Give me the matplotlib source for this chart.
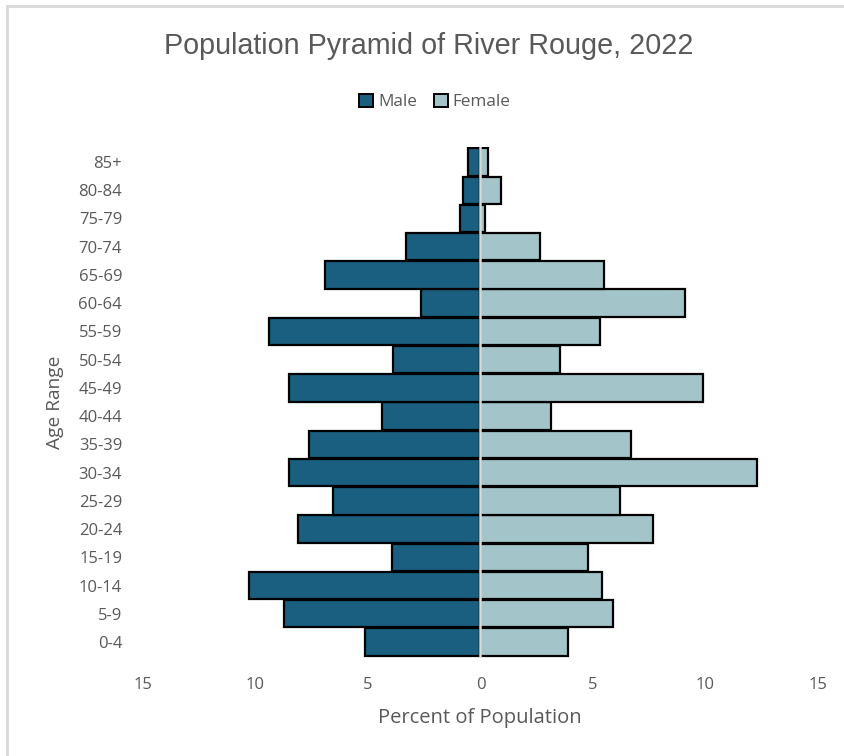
import matplotlib.pyplot as plt
from matplotlib.patches import Patch
from matplotlib.lines import Line2D

# age groups, bottom to top
age_groups = ["0-4", "5-9", "10-14", "15-19", "20-24", "25-29", "30-34", "35-39",
              "40-44", "45-49", "50-54", "55-59", "60-64", "65-69", "70-74",
              "75-79", "80-84", "85+"]
male = [5.15, 8.75, 10.3, 3.95, 8.12, 6.56, 8.52, 7.63, 4.36, 8.52, 3.9, 9.38,
        2.65, 6.92, 3.3, 0.89, 0.79, 0.55]
female = [3.9, 5.87, 5.42, 4.8, 7.65, 6.2, 12.27, 6.67, 3.15, 9.87, 3.55, 5.33,
          9.1, 5.5, 2.65, 0.22, 0.93, 0.33]
x_ticks = [-15, -10, -5, 0, 5, 10, 15]

male_color = "#1A5F80"
female_color = "#A3C4C9"
grey = "#595959"
body_font = ["Open Sans", "DejaVu Sans"]

fig = plt.figure(figsize=(8.45, 7.56), dpi=100)
ax = fig.add_axes([143 / 845, 1 - 657.5 / 756, 675 / 845, 511 / 756])

pos = list(range(len(age_groups)))
ax.barh(pos, [-v for v in male], height=0.97, color=male_color,
        edgecolor="black", linewidth=1.6, zorder=2)
ax.barh(pos, female, height=0.97, color=female_color,
        edgecolor="black", linewidth=1.6, zorder=2)
ax.axvline(0, color="#D9D9D9", linewidth=1.8, zorder=3)

ax.set_xlim(-15, 15)
ax.set_ylim(-0.55, len(age_groups) - 0.45)
ax.set_xticks(x_ticks)
ax.set_xticklabels([str(abs(t)) for t in x_ticks])
ax.set_yticks(pos)
ax.set_yticklabels(age_groups)
ax.tick_params(axis="x", length=0, pad=14, labelsize=12, labelcolor=grey)
ax.tick_params(axis="y", length=0, pad=15, labelsize=12, labelcolor=grey)
for lab in ax.get_xticklabels() + ax.get_yticklabels():
    lab.set_family(body_font)
for s in ax.spines.values():
    s.set_visible(False)

# titles and axis labels
fig.text(429 / 845, 1 - 46 / 756, "Population Pyramid of River Rouge, 2022",
         ha="center", va="center", fontsize=20.7, color=grey, family="Liberation Sans")
fig.text(480 / 845, 1 - 718 / 756, "Percent of Population", ha="center",
         va="center", fontsize=14.5, color=grey, family=body_font)
fig.text(55 / 845, 1 - 402 / 756, "Age Range", ha="center", va="center",
         rotation=90, fontsize=13.8, color=grey, family=body_font)

handles = [Patch(facecolor=male_color, edgecolor="black", linewidth=1.4, label="Male"),
           Patch(facecolor=female_color, edgecolor="black", linewidth=1.4, label="Female")]
fig.legend(handles=handles, loc="center", bbox_to_anchor=(435 / 845, 1 - 102 / 756),
           ncol=2, frameon=False, handlelength=0.8, handleheight=0.8,
           handletextpad=0.3, columnspacing=1.0,
           prop={"family": body_font, "size": 12.3}, labelcolor=grey)

# outer chart border (left and top only visible)
fig.add_artist(Line2D([7 / 845, 7 / 845], [0, 1 - 6 / 756], color="#D9D9D9",
                      linewidth=2, transform=fig.transFigure))
fig.add_artist(Line2D([7 / 845, 1], [1 - 6 / 756, 1 - 6 / 756], color="#D9D9D9",
                      linewidth=2, transform=fig.transFigure))

fig.savefig("out.png", dpi=100, facecolor="white")
